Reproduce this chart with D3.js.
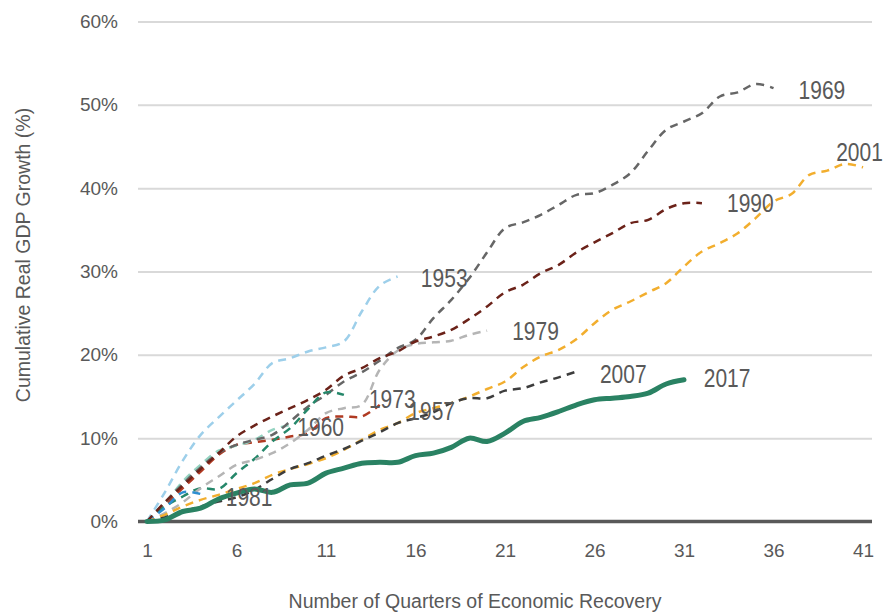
<!DOCTYPE html>
<html>
<head>
<meta charset="UTF-8">
<title>Cumulative Real GDP Growth by Recovery</title>
<script src="https://cdn.jsdelivr.net/npm/d3@7"></script>
<style>
body {
  margin: 0;
  background: #ffffff;
}
.tick text {
  font-family: "Liberation Sans", Arial, sans-serif;
  font-size: 19px;
  fill: #595959;
}
.title {
  font-family: "Liberation Sans", Arial, sans-serif;
  font-size: 19.5px;
  fill: #595959;
}
.year {
  font-family: "Liberation Sans", Arial, sans-serif;
  font-size: 25px;
  fill: #595959;
}
</style>
</head>
<body>
<script>
// cumulative real GDP growth (%), index 0 = quarter 1 of each recovery
var g1953 = [0, 3.5, 7.3, 10.4, 12.5, 14.5, 16.5, 19.0, 19.6, 20.4, 20.9, 21.6, 25.2, 28.3, 29.4];
var g1957 = [0, 2.0, 4.0, 6.0, 8.0, 9.2, 9.5, 9.8, 10.2, 10.6, 12.4, 12.6, 12.6, 14.0];
var g1960 = [0, 2.2, 4.8, 6.8, 8.5, 9.1, 9.8, 11.0, 11.6];
var g1969 = [0, 2.3, 4.5, 6.5, 8.2, 9.2, 9.8, 10.4, 12.0, 13.8, 15.2, 16.8, 17.9, 19.3, 20.8, 21.8,
             24.4, 26.6, 29.2, 32.3, 35.2, 35.9, 36.8, 38.0, 39.2, 39.4, 40.4, 41.8, 44.5, 47.0,
             48.0, 49.0, 51.0, 51.5, 52.5, 52.0];
var g1973 = [0, 1.8, 3.0, 4.0, 3.9, 5.8, 7.5, 9.6, 11.2, 13.5, 15.5, 15.2];
var g1979 = [0, 1.0, 2.3, 4.0, 5.4, 6.8, 7.4, 8.2, 9.4, 11.0, 13.0, 13.6, 14.0, 18.2, 20.5, 21.3,
             21.5, 21.7, 22.4, 22.9];
var g1981 = [0, 1.6, 3.5, 3.3];
var g1990 = [0, 2.3, 4.3, 6.3, 8.2, 10.2, 11.5, 12.6, 13.6, 14.6, 15.8, 17.5, 18.4, 19.6, 20.4, 21.6,
             22.2, 23.0, 24.3, 25.8, 27.5, 28.4, 29.8, 30.8, 32.3, 33.5, 34.6, 35.8, 36.2, 37.5,
             38.2, 38.2];
var g2001 = [0, 0.8, 1.8, 2.6, 3.2, 3.9, 4.6, 5.6, 6.3, 6.9, 7.6, 8.6, 9.8, 11.0, 11.8, 13.0,
             13.6, 14.2, 15.0, 15.9, 16.8, 18.5, 19.8, 20.6, 21.9, 23.8, 25.4, 26.4, 27.5, 28.6,
             30.6, 32.4, 33.4, 34.6, 36.4, 38.4, 39.3, 41.6, 42.1, 42.9, 42.5];
var g2007 = [0, 0.5, 1.2, 1.8, 2.4, 2.9, 3.8, 5.1, 6.3, 7.0, 7.9, 8.7, 9.7, 10.7, 11.8, 12.4,
             13.1, 14.2, 14.8, 14.8, 15.7, 16.0, 16.7, 17.3, 18.0];
var g2017 = [0, 0.2, 1.2, 1.6, 2.7, 3.4, 3.9, 3.5, 4.4, 4.6, 5.8, 6.4, 7.0, 7.1, 7.1, 7.9,
             8.2, 8.9, 10.0, 9.6, 10.6, 12.0, 12.5, 13.2, 14.0, 14.6, 14.8, 15.0, 15.4, 16.5, 17.0];

var xTicks = [1, 6, 11, 16, 21, 26, 31, 36, 41];
var yTicks = [0, 10, 20, 30, 40, 50, 60];

// year label anchors: [text, quarter, pct]
var yearLabels = [
  ["1953", 16.3, 29.2], ["1957", 15.6, 13.3], ["1960", 9.4, 11.4], ["1969", 37.4, 51.8],
  ["1973", 13.4, 14.7], ["1979", 21.4, 22.9], ["1981", 5.4, 3.0], ["1990", 33.4, 38.2],
  ["2001", 39.5, 44.3], ["2007", 26.3, 17.7], ["2017", 32.1, 17.2]
];

var width = 883,
    height = 614;

var svg = d3.select("body").append("svg")
    .attr("width", width)
    .attr("height", height);

var x = d3.scaleLinear().domain([0.5, 41.5]).range([138, 872]);
var y = d3.scaleLinear().domain([0, 60]).range([521.5, 21.5]);

// gridlines + y labels
var yAxis = svg.append("g")
    .attr("transform", "translate(138,0)")
    .call(d3.axisLeft(y)
        .tickValues(yTicks)
        .tickSize(-(872 - 138))
        .tickPadding(20)
        .tickFormat(function(d) { return d + "%"; }));
yAxis.select(".domain").remove();
yAxis.selectAll(".tick line")
    .attr("stroke", "#d9d9d9")
    .attr("stroke-width", 2);

var xAxis = svg.append("g")
    .attr("transform", "translate(0," + y(0) + ")")
    .call(d3.axisBottom(x)
        .tickValues(xTicks)
        .tickSize(0)
        .tickPadding(22));
xAxis.select(".domain").remove();

svg.append("line")
    .attr("x1", 138)
    .attr("x2", 872)
    .attr("y1", y(0))
    .attr("y2", y(0))
    .attr("stroke", "#595959")
    .attr("stroke-width", 3.5);

var series = [
  { name: "1953", values: g1953, color: "#9dcfea" },
  { name: "1957", values: g1957, color: "#b03a22" },
  { name: "1960", values: g1960, color: "#94d3c1" },
  { name: "1969", values: g1969, color: "#666666" },
  { name: "1973", values: g1973, color: "#25876a" },
  { name: "1979", values: g1979, color: "#b5b5b5" },
  { name: "1981", values: g1981, color: "#2e8fd0" },
  { name: "1990", values: g1990, color: "#6b2219" },
  { name: "2001", values: g2001, color: "#f2ae2e" },
  { name: "2007", values: g2007, color: "#3d3d3d" },
  { name: "2017", values: g2017, color: "#2a8263", solid: true }
];

var line = d3.line()
    .x(function(d, i) { return x(i + 1); })
    .y(function(d) { return y(d); })
    .curve(d3.curveCatmullRom.alpha(0.5));

svg.append("g").selectAll("path")
    .data(series)
    .enter()
    .append("path")
    .attr("fill", "none")
    .attr("stroke", function(d) { return d.color; })
    .attr("stroke-width", function(d) { return d.solid ? 5 : 2.5; })
    .attr("stroke-dasharray", function(d) { return d.solid ? null : "8,6"; })
    .attr("stroke-linecap", function(d) { return d.solid ? "round" : "butt"; })
    .attr("stroke-linejoin", "round")
    .attr("d", function(d) { return line(d.values); });

// narrow look for the year labels: squeeze horizontally
svg.append("g").selectAll("text")
    .data(yearLabels)
    .enter()
    .append("text")
    .attr("class", "year")
    .attr("transform", function(d) {
        return "translate(" + x(d[1]) + "," + y(d[2]) + ") scale(0.84,1)";
    })
    .attr("dy", "0.36em")
    .text(function(d) { return d[0]; });

svg.append("text")
    .attr("class", "title")
    .attr("text-anchor", "middle")
    .attr("x", 475)
    .attr("y", 601)
    .attr("dy", "0.36em")
    .text("Number of Quarters of Economic Recovery");

svg.append("text")
    .attr("class", "title")
    .attr("text-anchor", "middle")
    .attr("transform", "translate(23,255) rotate(-90)")
    .attr("dy", "0.36em")
    .text("Cumulative Real GDP Growth (%)");
</script>
</body>
</html>
